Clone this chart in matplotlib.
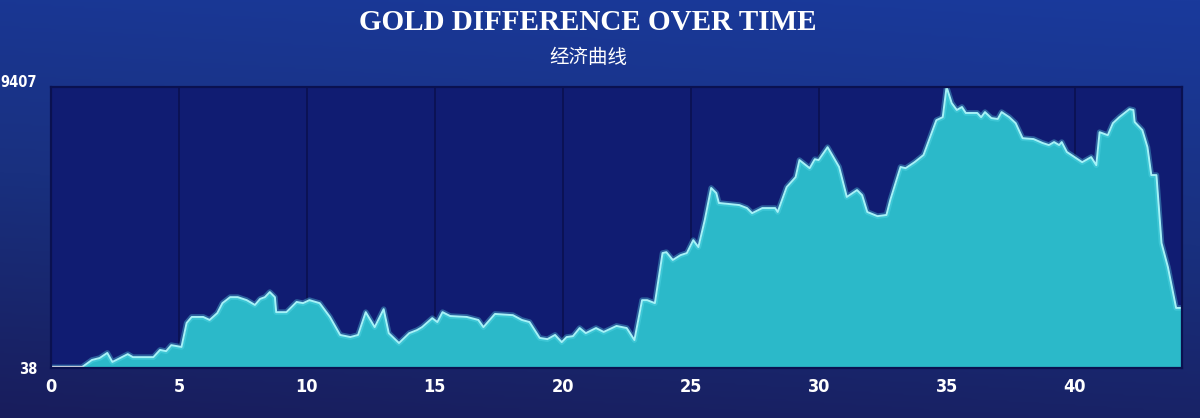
import numpy as np
import matplotlib.pyplot as plt
from matplotlib.colors import LinearSegmentedColormap

# gold lead over time (minutes)
minutes = [0, 1.2, 1.6, 1.9, 2.2, 2.4, 2.7, 3.0, 3.2, 3.75, 4.0, 4.26, 4.5, 4.7, 5.1,
           5.3, 5.5, 5.95, 6.2, 6.5, 6.7, 7.0, 7.3, 7.65, 7.97, 8.17, 8.36, 8.55, 8.75,
           8.8, 9.2, 9.6, 9.85, 10.1, 10.5, 10.9, 11.3, 11.7, 12.0, 12.3, 12.65, 13.0,
           13.2, 13.6, 14.0, 14.3, 14.5, 14.9, 15.1, 15.3, 15.6, 16.25, 16.7, 16.9,
           17.35, 18.05, 18.4, 18.7, 19.1, 19.4, 19.7, 19.96, 20.15, 20.4, 20.66, 20.9,
           21.3, 21.6, 22.1, 22.5, 22.8, 23.1, 23.3, 23.6, 23.9, 24.05, 24.3, 24.6,
           24.85, 25.1, 25.3, 25.55, 25.8, 26.0, 26.1, 26.9, 27.2, 27.4, 27.8, 28.3,
           28.4, 28.75, 29.1, 29.25, 29.65, 29.85, 30.0, 30.35, 30.8, 31.1, 31.5, 31.7,
           31.9, 32.3, 32.65, 32.8, 33.2, 33.4, 33.75, 34.1, 34.6, 34.85, 35.0, 35.2,
           35.4, 35.6, 35.75, 36.2, 36.35, 36.5, 36.75, 37.0, 37.15, 37.45, 37.7, 37.97,
           38.4, 38.75, 39.0, 39.2, 39.4, 39.5, 39.7, 40.0, 40.3, 40.65, 40.85, 40.98,
           41.3, 41.5, 41.75, 42.15, 42.3, 42.35, 42.65, 42.85, 43.0, 43.2, 43.4, 43.65,
           43.97, 44.2]
gold = [60, 60, 305, 370, 540, 240, 370, 500, 400, 400, 400, 640, 600, 800, 740,
        1540, 1740, 1740, 1640, 1870, 2200, 2400, 2400, 2300, 2140, 2340, 2400, 2570, 2400,
        1900, 1900, 2240, 2200, 2300, 2200, 1740, 1140, 1070, 1140, 1900, 1400, 2000,
        1200, 870, 1200, 1300, 1400, 1700, 1570, 1900, 1770, 1740, 1640, 1400,
        1840, 1800, 1640, 1570, 1040, 1000, 1140, 900, 1070, 1100, 1370, 1200,
        1370, 1240, 1440, 1370, 970, 2300, 2300, 2200, 3870, 3900, 3640, 3800,
        3870, 4300, 4070, 4970, 6040, 5870, 5540, 5470, 5370, 5200, 5370, 5370,
        5240, 6070, 6400, 6970, 6700, 7000, 6970, 7400, 6740, 5740, 5970, 5800,
        5240, 5100, 5140, 5640, 6740, 6700, 6900, 7140, 8300, 8400, 9407, 8870,
        8640, 8740, 8540, 8540, 8400, 8570, 8370, 8340, 8570, 8400, 8200, 7700,
        7670, 7540, 7470, 7570, 7470, 7570, 7240, 7070, 6900, 7070, 6800, 7900,
        7800, 8200, 8400, 8670, 8640, 8240, 7970, 7400, 6470, 6470, 4200, 3400,
        2040, 2040]
y_min, y_max = 38, 9407
x_ticks = [0, 5, 10, 15, 20, 25, 30, 35, 40]

fig = plt.figure(figsize=(12, 4.18), dpi=100)

# background gradient
bg = fig.add_axes([0, 0, 1, 1])
bg_cmap = LinearSegmentedColormap.from_list("bg", ["#1a3a9c", "#19307f", "#181d5c"])
gy = np.linspace(0, 1, 200)[:, None]
gx = np.linspace(0, 1, 300)[None, :]
grad = gy * 0.85 + 0.15 * (1 - gx)
bg.imshow(grad, cmap=bg_cmap, aspect="auto", extent=[0, 1, 0, 1], origin="upper")
bg.axis("off")

ax = fig.add_axes([0.0425, 0.1196, 0.9425, 0.6723])
ax.set_facecolor("#101c72")
ax.fill_between(minutes, y_min, gold, color="#2bb9c9", lw=0)
ax.plot(minutes, gold, color="#5fe0ee", lw=4, alpha=0.35)
ax.plot(minutes, gold, color="#a6f2f7", lw=1.4)
ax.plot(minutes[:2], gold[:2], color="#d8dde6", lw=1.6)

ax.set_xlim(0, 44.2)
ax.set_ylim(y_min, y_max)
for x in x_ticks[1:]:
    ax.axvline(x, color="#0a1150", lw=1.2, zorder=0)

for s in ax.spines.values():
    s.set_color("#0a1150")
    s.set_linewidth(1.6)

ax.set_xticks(x_ticks)
ax.set_yticks([y_min, y_max])
ax.tick_params(axis="x", length=0, colors="white", pad=7)
ax.tick_params(axis="y", length=0, colors="white", pad=10)
ax.set_xticklabels([str(t) for t in x_ticks], family="DejaVu Sans",
                   stretch="condensed", weight="bold", size=13)
ax.set_yticklabels([str(y_min), str(y_max)], family="DejaVu Sans",
                   stretch="condensed", weight="bold", size=10.5)
# top label sits just above the plot frame, like the original
ax.get_yticklabels()[1].set_va("baseline")

fig.text(0.49, 0.945, "GOLD DIFFERENCE OVER TIME", ha="center", va="center",
         color="white", family="Liberation Serif", weight="bold", size=21)
fig.text(0.49, 0.862, "经济曲线", ha="center", va="center", color="white",
         family=["Noto Sans CJK SC", "DejaVu Sans"], size=14)

fig.savefig("out.png", dpi=100)
